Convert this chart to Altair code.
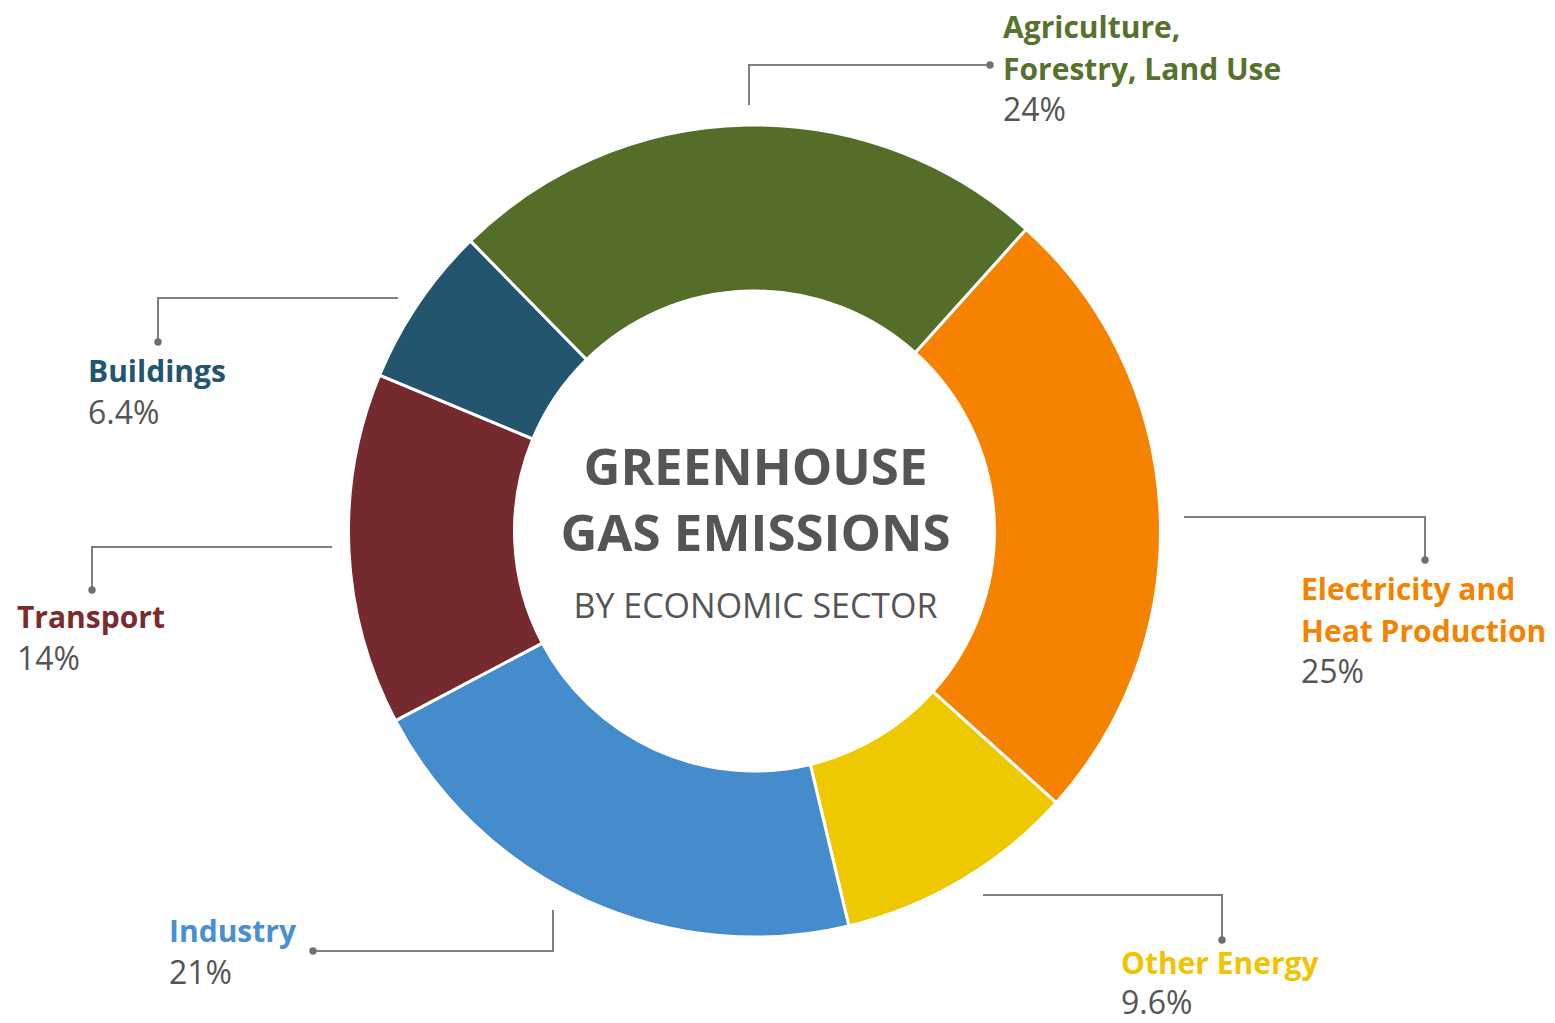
import altair as alt
import pandas as pd
import math

# ---- data ----
sectors = ["Electricity and Heat Production", "Other Energy", "Industry",
           "Transport", "Buildings", "Agriculture, Forestry, Land Use"]
shares = [25, 9.6, 21, 14, 6.4, 24]
share_labels = ["25%", "9.6%", "21%", "14%", "6.4%", "24%"]
slice_colors = ["#F58300", "#EEC800", "#458CCC", "#752A2F", "#23566E", "#546E2A"]
text_colors = ["#F58300", "#F0C400", "#4A8FD0", "#7A2B30", "#23566E", "#56722C"]
name_lines = [["Electricity and", "Heat Production"], ["Other Energy"], ["Industry"],
              ["Transport"], ["Buildings"], ["Agriculture,", "Forestry, Land Use"]]

# annotation layout (page pixel coordinates)
label_x = [1301, 1121, 169, 17, 88, 1003]
label_y = [600, 974, 942, 628, 382, 38]
pct_gap = [41.5, 39.5, 41.5, 41.5, 41.5, 41.5]
leader_paths = [
    [(1184, 517), (1425, 517), (1425, 560)],
    [(983, 895), (1222, 895), (1222, 940)],
    [(553, 910), (553, 951), (313, 951)],
    [(332, 547), (92, 547), (92, 590)],
    [(398, 298), (158, 298), (158, 342)],
    [(749, 105), (749, 65), (990, 65)],
]
title_lines = ["GREENHOUSE", "GAS EMISSIONS", "BY ECONOMIC SECTOR"]
title_y = [485, 551, 618]

W, H = 1539, 1007
LINE_H = 41.5
start = math.radians(42)

df = pd.DataFrame({"sector": sectors, "value": shares, "idx": range(len(sectors))})

rows_name, rows_pct, rows_line, rows_dot = [], [], [], []
for i, s in enumerate(sectors):
    for j, t in enumerate(name_lines[i]):
        rows_name.append({"sector": s, "text": t, "x": label_x[i], "y": label_y[i] + j * LINE_H})
    rows_pct.append({"sector": s, "text": share_labels[i], "x": label_x[i],
                     "y": label_y[i] + (len(name_lines[i]) - 1) * LINE_H + pct_gap[i]})
    for k, (px, py) in enumerate(leader_paths[i]):
        rows_line.append({"sector": s, "k": k, "x": px, "y": py})
    ex, ey = leader_paths[i][-1]
    rows_dot.append({"sector": s, "x": ex, "y": ey})

xs = alt.Scale(domain=[8, 8 + W])
ys = alt.Scale(domain=[8, 8 + H], reverse=True)
X = lambda: alt.X("x:Q", scale=xs, axis=None)
Y = lambda: alt.Y("y:Q", scale=ys, axis=None)

donut = alt.Chart(df).mark_arc(
    radius=406, radius2=240, x=754.5 - 8, y=531 - 8, stroke="white", strokeWidth=3
).encode(
    theta=alt.Theta("value:Q", stack=True, scale=alt.Scale(range=[start, start + 2 * math.pi])),
    order=alt.Order("idx:Q"),
    color=alt.Color("sector:N", scale=alt.Scale(domain=sectors, range=slice_colors), legend=None),
)

lines = alt.Chart(pd.DataFrame(rows_line)).mark_line(color="#7f7f7f", strokeWidth=2).encode(
    x=X(), y=Y(), detail="sector:N", order="k:Q"
)
dots = alt.Chart(pd.DataFrame(rows_dot)).mark_circle(color="#6f6f6f", size=55, opacity=1).encode(
    x=X(), y=Y()
)
names = alt.Chart(pd.DataFrame(rows_name)).mark_text(
    align="left", baseline="alphabetic", font="Open Sans", fontSize=30, fontWeight="bold"
).encode(
    x=X(), y=Y(), text="text:N",
    color=alt.Color("sector:N", scale=alt.Scale(domain=sectors, range=text_colors), legend=None),
)
pcts = alt.Chart(pd.DataFrame(rows_pct)).mark_text(
    align="left", baseline="alphabetic", font="Open Sans", fontSize=32, color="#555555"
).encode(x=X(), y=Y(), text="text:N")

tdf = pd.DataFrame({"text": title_lines, "x": [755.5] * 3, "y": title_y})
title_big = alt.Chart(tdf.iloc[:2]).mark_text(
    align="center", baseline="alphabetic", font="Open Sans", fontSize=51, fontWeight="bold",
    color="#555555"
).encode(x=X(), y=Y(), text="text:N")
title_small = alt.Chart(tdf.iloc[2:]).mark_text(
    align="center", baseline="alphabetic", font="Open Sans", fontSize=34, color="#555555"
).encode(x=X(), y=Y(), text="text:N")

chart = alt.layer(donut, lines, dots, names, pcts, title_big, title_small).resolve_scale(
    color="independent"
).properties(
    width=W, height=H, padding=0,
    autosize=alt.AutoSizeParams(type="none"),
).configure_view(stroke=None)

chart.save("out.html", embed_options={"renderer": "svg", "actions": False})
